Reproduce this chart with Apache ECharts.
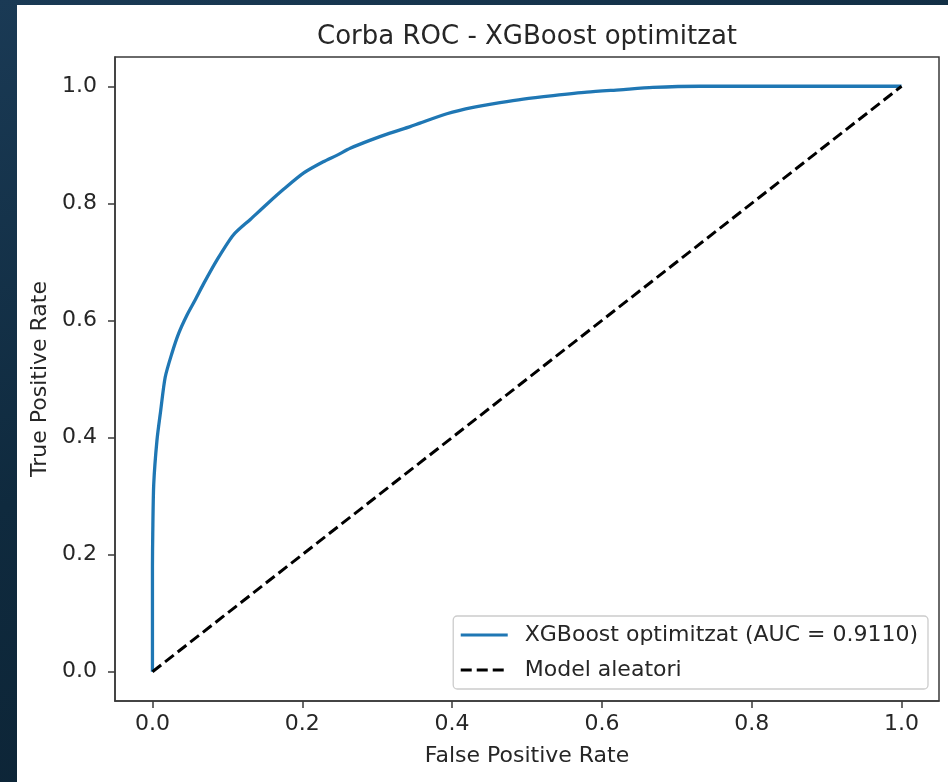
<!DOCTYPE html>
<html>
<head>
<meta charset="utf-8">
<script src="https://cdn.jsdelivr.net/npm/echarts@6/dist/echarts.min.js"></script>
<style>
  html, body { margin: 0; padding: 0; }
  body {
    width: 948px; height: 782px; overflow: hidden; position: relative;
    background: linear-gradient(160deg, #1a3a55 0%, #0f2a3e 45%, #0b2030 100%);
  }
  #roc {
    position: absolute; left: 17px; top: 5px;
    width: 931px; height: 777px; background: #ffffff;
  }
</style>
</head>
<body>
<div id="roc"></div>
<script>
// ROC curve
var fprValues = [0, 0, 0.0004, 0.0017, 0.006, 0.011, 0.017, 0.026, 0.035, 0.046, 0.057,
  0.068, 0.086, 0.108, 0.131, 0.153, 0.175, 0.202, 0.228, 0.246, 0.264, 0.291, 0.317,
  0.344, 0.357, 0.393, 0.428, 0.464, 0.495, 0.535, 0.580, 0.624, 0.668, 0.731, 0.85, 1.0];
var tprValues = [0, 0.18, 0.235, 0.32, 0.395, 0.446, 0.503, 0.544, 0.578, 0.609, 0.635,
  0.662, 0.703, 0.746, 0.773, 0.799, 0.824, 0.852, 0.871, 0.882, 0.894, 0.908, 0.920,
  0.931, 0.937, 0.953, 0.964, 0.972, 0.978, 0.984, 0.990, 0.994, 0.998, 1.0, 1.0, 1.0];
var randomFpr = [0, 1];
var randomTpr = [0, 1];
var tickValues = [0, 0.2, 0.4, 0.6, 0.8, 1.0];
var seriesNames = ['XGBoost optimitzat (AUC = 0.9110)', 'Model aleatori'];

function zip(xs, ys) {
  var out = [];
  for (var i = 0; i < xs.length; i++) out.push([xs[i], ys[i]]);
  return out;
}

var font = 'DejaVu Sans';
var textColor = '#262626';
var spine = '#3a3a3a';

var axisCommon = {
  type: 'value',
  min: -0.05,
  max: 1.05,
  nameLocation: 'middle',
  nameTextStyle: { fontFamily: font, fontSize: 22, color: textColor },
  axisLine: { show: true, onZero: false, lineStyle: { color: spine, width: 1.5 } },
  axisTick: { show: true, inside: false, length: 7, customValues: tickValues,
    lineStyle: { color: spine, width: 1.5 } },
  splitLine: { show: false },
};

var myChart = echarts.init(document.getElementById('roc'));
var option = {
  animation: false,
  title: {
    text: 'Corba ROC - XGBoost optimitzat',
    left: 510,
    top: 19,
    padding: 0,
    textAlign: 'center',
    textStyle: { fontFamily: font, fontSize: 26, fontWeight: 'normal', color: textColor }
  },
  grid: {
    left: 98, top: 52, right: 9, bottom: 81,
    show: true, borderColor: spine, borderWidth: 1.5, backgroundColor: '#fff'
  },
  legend: {
    orient: 'vertical',
    right: 20,
    bottom: 93,
    padding: [6, 10, 6, 6],
    itemWidth: 47,
    itemHeight: 14,
    itemGap: 9,
    backgroundColor: '#ffffff',
    borderColor: '#cccccc',
    borderWidth: 1.3,
    borderRadius: 4,
    data: seriesNames,
    itemStyle: { opacity: 0 },
    lineStyle: { width: 3 },
    textStyle: { fontFamily: font, fontSize: 22, color: textColor, lineHeight: 26,
      padding: [0, 0, 0, 12] }
  },
  xAxis: Object.assign({}, axisCommon, {
    name: 'False Positive Rate',
    nameGap: 44,
    axisLabel: { customValues: tickValues, margin: 12, fontFamily: font, fontSize: 22,
      color: textColor, formatter: function (v) { return v.toFixed(1); } }
  }),
  yAxis: Object.assign({}, axisCommon, {
    name: 'True Positive Rate',
    nameGap: 60,
    axisLabel: { customValues: tickValues, margin: 18, fontFamily: font, fontSize: 22,
      color: textColor, formatter: function (v) { return v.toFixed(1); } }
  }),
  series: [
    {
      name: seriesNames[0],
      type: 'line',
      symbol: 'none',
      smooth: 0.25,
      lineStyle: { color: '#1f77b4', width: 3.3 },
      itemStyle: { color: '#1f77b4' },
      data: zip(fprValues, tprValues)
    },
    {
      name: seriesNames[1],
      type: 'line',
      symbol: 'none',
      lineStyle: { color: '#000000', width: 3, type: [11, 5] },
      itemStyle: { color: '#000000' },
      data: zip(randomFpr, randomTpr)
    }
  ]
};
myChart.setOption(option);
</script>
</body>
</html>
